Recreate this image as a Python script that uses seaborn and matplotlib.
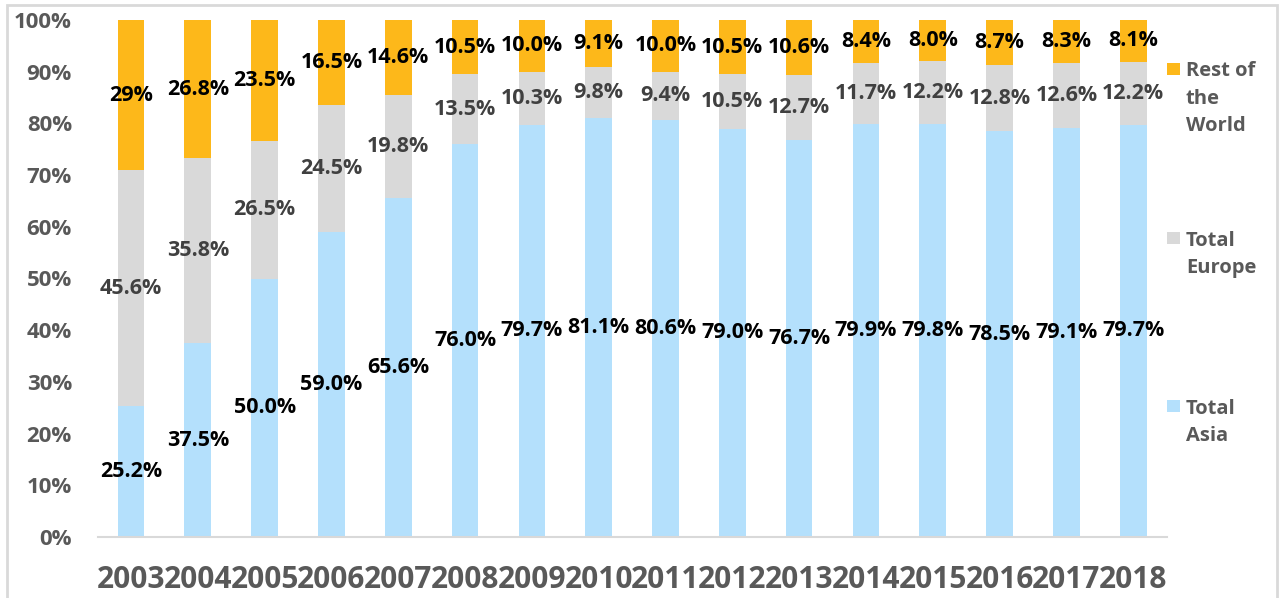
import numpy as np
import pandas as pd
import matplotlib
matplotlib.use("Agg")
import matplotlib.pyplot as plt
from matplotlib.patches import Rectangle
import seaborn as sns

# ---- data ----
years = ["2003", "2004", "2005", "2006", "2007", "2008", "2009", "2010",
         "2011", "2012", "2013", "2014", "2015", "2016", "2017", "2018"]
asia = [25.2, 37.5, 50.0, 59.0, 65.6, 76.0, 79.7, 81.1, 80.6, 79.0, 76.7, 79.9, 79.8, 78.5, 79.1, 79.7]
europe = [45.6, 35.8, 26.5, 24.5, 19.8, 13.5, 10.3, 9.8, 9.4, 10.5, 12.7, 11.7, 12.2, 12.8, 12.6, 12.2]
rest = [29.0, 26.8, 23.5, 16.5, 14.6, 10.5, 10.0, 9.1, 10.0, 10.5, 10.6, 8.4, 8.0, 8.7, 8.3, 8.1]
rest_labels = ["29%", "26.8%", "23.5%", "16.5%", "14.6%", "10.5%", "10.0%", "9.1%",
               "10.0%", "10.5%", "10.6%", "8.4%", "8.0%", "8.7%", "8.3%", "8.1%"]
series_names = ["Total Asia", "Total Europe", "Rest of the World"]
legend_labels = ["Rest of\nthe\nWorld", "Total\nEurope", "Total\nAsia"]
ytick_labels = ["0%", "10%", "20%", "30%", "40%", "50%", "60%", "70%", "80%", "90%", "100%"]

C_ASIA = "#B4E0FC"
C_EUR = "#D9D9D9"
C_REST = "#FDB81A"
GREY_TXT = "#595959"

sns.set_theme(style="white")
plt.rcParams["font.family"] = ["Open Sans", "DejaVu Sans"]
plt.rcParams["font.weight"] = "bold"

a = np.array(asia)
e = np.array(europe)
r = np.array(rest)
tot = a + e + r
a_n = a / tot
e_n = e / tot
r_n = r / tot

df = pd.DataFrame({
    "year": years,
    "top": a_n + e_n + r_n,
    "mid": a_n + e_n,
    "low": a_n,
})

fig = plt.figure(figsize=(12.8, 5.98), dpi=100)
ax = fig.add_axes([97.6 / 1280, 61 / 598, (1166.6 - 97.6) / 1280, (537 - 20) / 598])

W = 0.40
sns.barplot(data=df, x="year", y="top", order=years, color=C_REST, saturation=1,
            width=W, ax=ax, linewidth=0, edgecolor="none")
sns.barplot(data=df, x="year", y="mid", order=years, color=C_EUR, saturation=1,
            width=W, ax=ax, linewidth=0, edgecolor="none")
sns.barplot(data=df, x="year", y="low", order=years, color=C_ASIA, saturation=1,
            width=W, ax=ax, linewidth=0, edgecolor="none")

# data labels at segment centers
FS = 15.5
for i in range(len(years)):
    ax.text(i, a_n[i] / 2, f"{asia[i]:.1f}%", ha="center", va="center",
            fontsize=FS, fontweight="bold", color="black")
    ax.text(i, a_n[i] + e_n[i] / 2, f"{europe[i]:.1f}%", ha="center", va="center",
            fontsize=FS, fontweight="bold", color="#404040")
    ax.text(i, a_n[i] + e_n[i] + r_n[i] / 2, rest_labels[i], ha="center", va="center",
            fontsize=FS, fontweight="bold", color="black")

ax.set_xlim(-0.5, len(years) - 0.5)
ax.set_ylim(0, 1)
ax.set_yticks(np.linspace(0, 1, 11))
ax.set_yticklabels(ytick_labels)
ax.set_xlabel("")
ax.set_ylabel("")
ax.tick_params(axis="y", length=0, pad=18.5, labelsize=16, labelcolor=GREY_TXT)
ax.tick_params(axis="x", length=0, pad=20.5, labelsize=21.5, labelcolor=GREY_TXT)
for lab in ax.get_xticklabels() + ax.get_yticklabels():
    lab.set_fontweight("bold")
for s in ["top", "right", "left"]:
    ax.spines[s].set_visible(False)
ax.spines["bottom"].set_color("#D9D9D9")
ax.spines["bottom"].set_linewidth(1.5)
ax.grid(False)

# legend (manual, in figure pixel coordinates converted to fractions)
def fx(px):
    return px / 1280

def fy(py):
    return 1 - py / 598

leg_items = [(C_REST, legend_labels[0], 63), (C_EUR, legend_labels[1], 232), (C_ASIA, legend_labels[2], 400)]
for col, lab, ytop in leg_items:
    fig.patches.append(Rectangle((fx(1167), fy(ytop + 12)), fx(13), 12 / 598,
                                 transform=fig.transFigure, facecolor=col, edgecolor="none"))
    fig.text(fx(1186), fy(ytop - 1.5), lab, ha="left", va="top", fontsize=14.5,
             fontweight="bold", color=GREY_TXT, linespacing=1.48)

# figure frame
fig.patches.append(Rectangle((fx(6.5), fy(700)), fx(1277 - 6.5), (700 - 5) / 598,
                             transform=fig.transFigure, facecolor="none",
                             edgecolor="#D9D9D9", linewidth=2))

fig.savefig("out.png", dpi=100, facecolor="white")
